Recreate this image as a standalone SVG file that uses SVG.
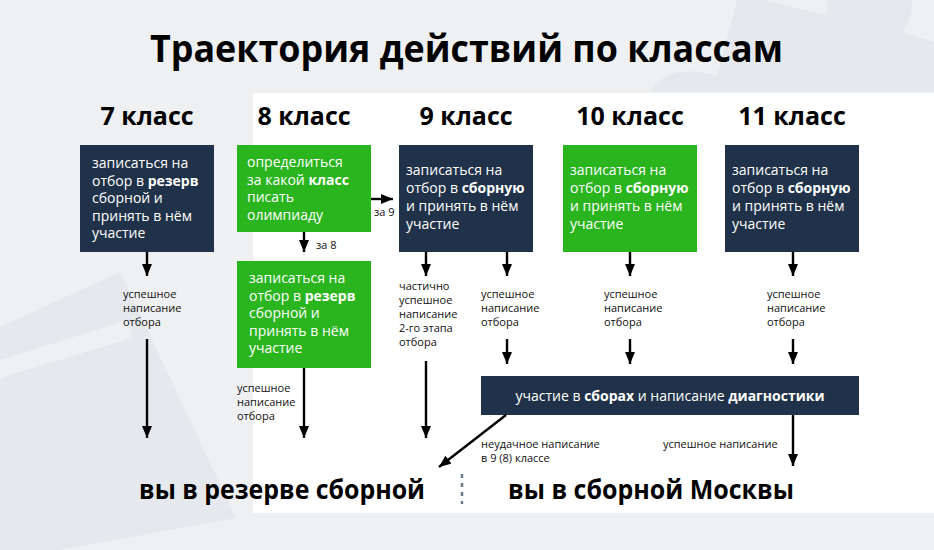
<svg xmlns="http://www.w3.org/2000/svg" width="934" height="550" viewBox="0 0 934 550">
<style>
.t{font-family:"Open Sans","Liberation Sans",sans-serif}
.bx{font-family:"Open Sans","Liberation Sans",sans-serif;font-size:14px;fill:#ffffff}
.lb{font-family:"Open Sans","Liberation Sans",sans-serif;font-size:11px;fill:#111111}
.hd{font-family:"Open Sans","Liberation Sans",sans-serif;font-size:25px;font-weight:bold;fill:#000000;text-anchor:middle}
.b{font-weight:bold}
.navy{fill:#1f3249}
.green{fill:#2ab41e}
.ln{stroke:#000000;stroke-width:2.4;fill:none}
</style>
<defs>
<marker id="ah" viewBox="0 0 12 10" refX="12" refY="5" markerWidth="12" markerHeight="10" markerUnits="userSpaceOnUse" orient="auto">
<path d="M0,0 L12,5 L0,10 Z" fill="#000000"/>
</marker>
</defs>
<rect x="0" y="0" width="934" height="550" fill="#eff0f2"/>
<path d="M737 0 L763 0 L827 15 L827 0 L912 0 Q914 18 902 32 L934 42 L934 92 L650 92 Q662 74 680 72 Q700 70 717 76 Z" fill="#e5e8ed"/>
<path d="M0 327 L120 272 L236 518 L60 550 L0 550 Z" fill="#e5e8ed"/>
<path d="M0 360 L128 320 L132 338 L0 378 Z" fill="#eff0f2"/>
<rect x="253" y="93" width="681" height="420" fill="#ffffff"/>
<text class="t" x="466.5" y="62" font-size="38" font-weight="bold" text-anchor="middle" textLength="633" lengthAdjust="spacingAndGlyphs">Траектория действий по классам</text>
<text class="hd" x="147" y="125">7 класс</text>
<text class="hd" x="304" y="125">8 класс</text>
<text class="hd" x="466" y="125">9 класс</text>
<text class="hd" x="630" y="125">10 класс</text>
<text class="hd" x="792" y="125">11 класс</text>
<g id="n7">
<rect class="navy" x="80" y="145" width="134" height="107"/>
<text class="bx" x="92" y="168">записаться на</text>
<text class="bx" x="92" y="185.5">отбор в <tspan class="b">резерв</tspan></text>
<text class="bx" x="92" y="203">сборной и</text>
<text class="bx" x="92" y="220.5">принять в нём</text>
<text class="bx" x="92" y="238">участие</text>
</g>
<g id="n8a">
<rect class="green" x="237" y="145" width="134" height="87"/>
<text class="bx" x="247" y="167">определиться</text>
<text class="bx" x="247" y="184.5">за какой <tspan class="b">класс</tspan></text>
<text class="bx" x="247" y="202">писать</text>
<text class="bx" x="247" y="219.5">олимпиаду</text>
</g>
<g id="n8b">
<rect class="green" x="237" y="261" width="134" height="107"/>
<text class="bx" x="249" y="283">записаться на</text>
<text class="bx" x="249" y="300.5">отбор в <tspan class="b">резерв</tspan></text>
<text class="bx" x="249" y="318">сборной и</text>
<text class="bx" x="249" y="335.5">принять в нём</text>
<text class="bx" x="249" y="353">участие</text>
</g>
<g id="n9">
<rect class="navy" x="399" y="145" width="134" height="107"/>
<text class="bx" x="406" y="175">записаться на</text>
<text class="bx" x="406" y="193">отбор в <tspan class="b">сборную</tspan></text>
<text class="bx" x="406" y="211">и принять в нём</text>
<text class="bx" x="406" y="229">участие</text>
</g>
<g id="n10">
<rect class="green" x="563" y="145" width="134" height="107"/>
<text class="bx" x="570" y="175">записаться на</text>
<text class="bx" x="570" y="193">отбор в <tspan class="b">сборную</tspan></text>
<text class="bx" x="570" y="211">и принять в нём</text>
<text class="bx" x="570" y="229">участие</text>
</g>
<g id="n11">
<rect class="navy" x="725" y="145" width="134" height="107"/>
<text class="bx" x="732" y="175">записаться на</text>
<text class="bx" x="732" y="193">отбор в <tspan class="b">сборную</tspan></text>
<text class="bx" x="732" y="211">и принять в нём</text>
<text class="bx" x="732" y="229">участие</text>
</g>
<g id="nsb">
<rect class="navy" x="481" y="376" width="378" height="39"/>
<text class="bx" x="670" y="401" text-anchor="middle">участие в <tspan class="b">сборах</tspan> и написание <tspan class="b">диагностики</tspan></text>
</g>
<g id="res">
<text class="t" x="282" y="499" font-size="26" font-weight="bold" text-anchor="middle" textLength="286" lengthAdjust="spacingAndGlyphs">вы в резерве сборной</text>
</g>
<g id="msk">
<text class="t" x="651" y="499" font-size="26" font-weight="bold" text-anchor="middle" textLength="286" lengthAdjust="spacingAndGlyphs">вы в сборной Москвы</text>
</g>
<line x1="462" y1="474" x2="462" y2="504" stroke="#6b7a8c" stroke-width="2.5" stroke-dasharray="4 5"/>
<g id="connectors">
<line class="ln" x1="147" y1="252" x2="147" y2="276" marker-end="url(#ah)"/>
<line class="ln" x1="147" y1="339" x2="147" y2="438" marker-end="url(#ah)"/>
<line class="ln" x1="304" y1="232" x2="304" y2="252" marker-end="url(#ah)"/>
<line class="ln" x1="371" y1="199" x2="393" y2="199" marker-end="url(#ah)"/>
<line class="ln" x1="304" y1="368" x2="304" y2="438" marker-end="url(#ah)"/>
<line class="ln" x1="426" y1="252" x2="426" y2="276" marker-end="url(#ah)"/>
<line class="ln" x1="426" y1="361" x2="426" y2="438" marker-end="url(#ah)"/>
<line class="ln" x1="507" y1="252" x2="507" y2="276" marker-end="url(#ah)"/>
<line class="ln" x1="507" y1="339" x2="507" y2="364" marker-end="url(#ah)"/>
<line class="ln" x1="630" y1="252" x2="630" y2="276" marker-end="url(#ah)"/>
<line class="ln" x1="630" y1="339" x2="630" y2="364" marker-end="url(#ah)"/>
<line class="ln" x1="793" y1="252" x2="793" y2="276" marker-end="url(#ah)"/>
<line class="ln" x1="793" y1="339" x2="793" y2="364" marker-end="url(#ah)"/>
<line class="ln" x1="793" y1="415" x2="793" y2="466" marker-end="url(#ah)"/>
<line class="ln" x1="506" y1="415" x2="439" y2="467" marker-end="url(#ah)"/>
<text class="lb" x="316" y="249">за 8</text>
<text class="lb" x="374" y="216">за 9</text>
<text class="lb" x="123" y="298">успешное</text>
<text class="lb" x="123" y="312">написание</text>
<text class="lb" x="123" y="326">отбора</text>
<text class="lb" x="237" y="392">успешное</text>
<text class="lb" x="237" y="406">написание</text>
<text class="lb" x="237" y="420">отбора</text>
<text class="lb" x="399" y="290">частично</text>
<text class="lb" x="399" y="304">успешное</text>
<text class="lb" x="399" y="318">написание</text>
<text class="lb" x="399" y="332">2-го этапа</text>
<text class="lb" x="399" y="346">отбора</text>
<text class="lb" x="481" y="298">успешное</text>
<text class="lb" x="481" y="312">написание</text>
<text class="lb" x="481" y="326">отбора</text>
<text class="lb" x="604" y="298">успешное</text>
<text class="lb" x="604" y="312">написание</text>
<text class="lb" x="604" y="326">отбора</text>
<text class="lb" x="767" y="298">успешное</text>
<text class="lb" x="767" y="312">написание</text>
<text class="lb" x="767" y="326">отбора</text>
<text class="lb" x="481" y="448">неудачное написание</text>
<text class="lb" x="481" y="462">в 9 (8) классе</text>
<text class="lb" x="663" y="448">успешное написание</text>
</g>
</svg>
